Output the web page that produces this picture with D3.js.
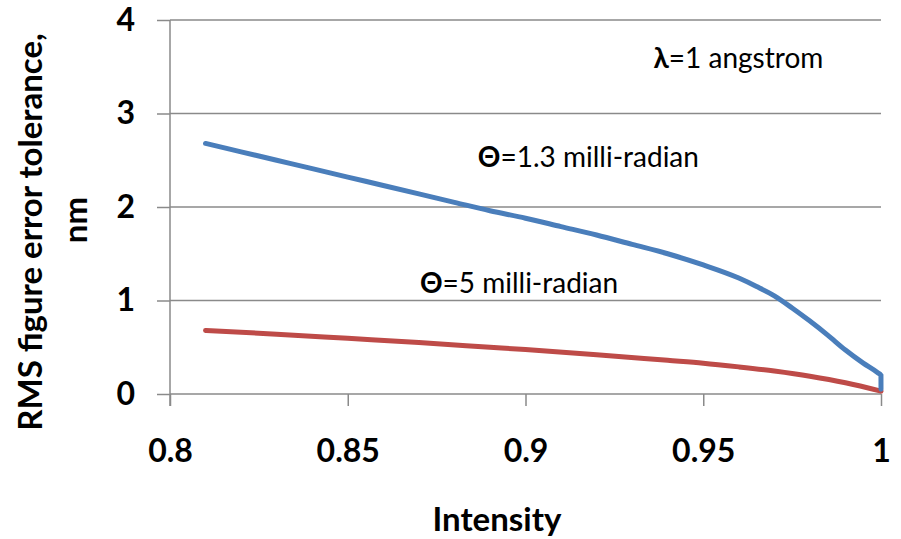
<!DOCTYPE html>
<html>
<head>
<meta charset="utf-8">
<script src="https://cdn.jsdelivr.net/npm/d3@7"></script>
<style>
  body { margin: 0; background: #fff; }
  svg { display: block; }
  .tick text { font-family: Lato, "Open Sans", sans-serif; font-weight: bold; font-size: 32px; fill: #000; }
  .title { font-family: Lato, "Open Sans", sans-serif; font-weight: bold; font-size: 33px; fill: #000; }
  .note { font-family: Lato, "Open Sans", sans-serif; font-size: 28px; fill: #000; }
  .note .sym { font-weight: bold; }
</style>
</head>
<body>
<div id="chart"></div>
<script>
  // x values (intensity) and RMS tolerance (nm)
  const intensity13 = [0.81, 0.82, 0.83, 0.84, 0.85, 0.86, 0.87, 0.88, 0.89, 0.90,
    0.91, 0.92, 0.93, 0.94, 0.95, 0.96, 0.965, 0.97, 0.975, 0.98, 0.985, 0.99,
    0.995, 0.999, 0.99999, 1.0];
  const tolerance13 = [2.68, 2.59, 2.50, 2.41, 2.32, 2.23, 2.14, 2.05, 1.96, 1.88,
    1.79, 1.70, 1.60, 1.50, 1.38, 1.24, 1.15, 1.05, 0.92, 0.78, 0.63, 0.47,
    0.33, 0.23, 0.20, 0.05];

  const intensity5 = [0.81, 0.83, 0.85, 0.87, 0.89, 0.90, 0.92, 0.94, 0.95, 0.96, 0.97, 0.98, 0.99, 1.0];
  const tolerance5 = [0.68, 0.64, 0.595, 0.55, 0.50, 0.475, 0.42, 0.36, 0.33, 0.29, 0.245, 0.19, 0.12, 0.03];

  const xTicks = [0.8, 0.85, 0.9, 0.95, 1];
  const yTicks = [0, 1, 2, 3, 4];

  // annotation anchors in data units
  const notes = [
    {sym: "\u03bb", text: "=1 angstrom", x: 0.936, y: 3.49},
    {sym: "\u0398", text: "=1.3 milli-radian", x: 0.8866, y: 2.43},
    {sym: "\u0398", text: "=5 milli-radian", x: 0.8703, y: 1.08}
  ];

  const W = 901, H = 539;
  const margin = {top: 20, right: 20, bottom: 145, left: 170};
  const width = W - margin.left - margin.right;
  const height = H - margin.top - margin.bottom;

  const svg = d3.select("#chart").append("svg")
    .attr("width", W)
    .attr("height", H);

  const g = svg.append("g")
    .attr("transform", "translate(" + margin.left + "," + margin.top + ")");

  const x = d3.scaleLinear().domain([0.8, 1]).range([0, width]);
  const y = d3.scaleLinear().domain([0, 4]).range([height, 0]);

  const gridColor = "#8a8a8a";

  // horizontal gridlines
  g.append("g")
    .selectAll("line")
    .data(yTicks)
    .join("line")
    .attr("x1", 0)
    .attr("x2", width)
    .attr("y1", d => y(d))
    .attr("y2", d => y(d))
    .attr("stroke", gridColor)
    .attr("stroke-width", 1.5);

  const yAxis = g.append("g")
    .call(d3.axisLeft(y).tickValues(yTicks).tickFormat(d3.format("d"))
      .tickSize(13).tickPadding(22));
  yAxis.select(".domain").remove();
  yAxis.selectAll(".tick line").attr("stroke", gridColor).attr("stroke-width", 1.5);

  // vertical axis line runs below the zero line down to tick length
  g.append("line")
    .attr("x1", 0).attr("x2", 0)
    .attr("y1", y(4)).attr("y2", height + 12)
    .attr("stroke", gridColor)
    .attr("stroke-width", 1.5);

  const xAxis = g.append("g")
    .attr("transform", "translate(0," + height + ")")
    .call(d3.axisBottom(x).tickValues(xTicks).tickFormat(d => String(d))
      .tickSize(12).tickPadding(33));
  xAxis.select(".domain").remove();
  xAxis.selectAll(".tick line").attr("stroke", gridColor).attr("stroke-width", 1.5);

  const line = d3.line()
    .x(d => x(d[0]))
    .y(d => y(d[1]))
    .curve(d3.curveMonotoneX);

  g.append("path")
    .datum(d3.zip(intensity5, tolerance5))
    .attr("fill", "none")
    .attr("stroke", "#be4b48")
    .attr("stroke-width", 5)
    .attr("stroke-linecap", "round")
    .attr("d", line);

  g.append("path")
    .datum(d3.zip(intensity13, tolerance13))
    .attr("fill", "none")
    .attr("stroke", "#4a7ebb")
    .attr("stroke-width", 5)
    .attr("stroke-linecap", "round")
    .attr("d", line);

  const noteText = g.append("g")
    .selectAll("text")
    .data(notes)
    .join("text")
    .attr("class", "note")
    .attr("x", d => x(d.x))
    .attr("y", d => y(d.y));
  noteText.append("tspan").attr("class", "sym").text(d => d.sym);
  noteText.append("tspan").text(d => d.text);

  // axis titles
  svg.append("text")
    .attr("class", "title")
    .attr("text-anchor", "middle")
    .attr("x", 497)
    .attr("y", 531)
    .text("Intensity");

  const yTitle = svg.append("text")
    .attr("class", "title")
    .attr("text-anchor", "middle")
    .attr("transform", "translate(0,232) rotate(-90)");
  yTitle.append("tspan").attr("x", 0).attr("y", 42).text("RMS figure error tolerance,");
  yTitle.append("tspan").attr("x", 12).attr("y", 87).text("nm");
</script>
</body>
</html>
